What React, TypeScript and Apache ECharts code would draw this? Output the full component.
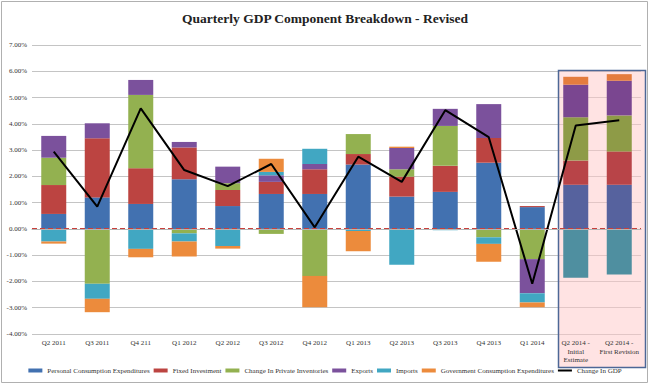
import React, { useEffect, useRef } from "react";
import * as echarts from "echarts";

const categories = [
  "Q2 2011", "Q3 2011", "Q4 211", "Q1 2012", "Q2 2012", "Q3 2012", "Q4 2012",
  "Q1 2013", "Q2 2013", "Q3 2013", "Q4 2013", "Q1 2014",
  "Q2 2014 -\nInitial\nEstimate", "Q2 2014 -\nFirst Revision",
];
const pce = [0.57, 1.2, 0.95, 1.89, 0.87, 1.33, 1.33, 2.45, 1.23, 1.41, 2.52, 0.83, 1.68, 1.68];
const fixedInv = [1.1, 2.25, 1.36, 1.21, 0.61, 0.46, 0.94, 0.4, 0.76, 0.99, 0.94, 0.04, 0.92, 1.27];
const inventories = [1.04, -2.09, 2.79, -0.17, 0.26, -0.19, -1.79, 0.76, 0.28, 1.52, -0.32, -1.15, 1.65, 1.37];
const exportsV = [0.83, 0.57, 0.57, 0.21, 0.63, 0.25, 0.2, 0, 0.81, 0.65, 1.29, -1.3, 1.24, 1.32];
const importsV = [-0.48, -0.57, -0.76, -0.31, -0.65, 0.13, 0.58, -0.08, -1.36, -0.05, -0.25, -0.35, -1.86, -1.74];
const govV = [-0.08, -0.51, -0.32, -0.57, -0.1, 0.5, -1.19, -0.77, 0.05, 0, -0.68, -0.18, 0.3, 0.25];
const gdp = [2.94, 0.85, 4.59, 2.24, 1.63, 2.47, 0.06, 2.75, 1.79, 4.52, 3.49, -2.09, 3.94, 4.14];

const seriesNames = [
  "Personal Consumption Expenditures",
  "Fixed Investment",
  "Change In Private Inventories",
  "Exports",
  "Imports",
  "Government Consumption Expenditures",
];
const seriesColors = ["#4271b0", "#bc4441", "#93b150", "#7b519c", "#41a7c2", "#ec8b3c"];
const mutedColors = ["#56629e", "#b84448", "#8e9b47", "#7a4690", "#4f8fa0", "#e47c3e"];
const highlightStart = 12;

const FONT = "Liberation Serif";

export default function App() {
  const ref = useRef<HTMLDivElement>(null);
  useEffect(() => {
    if (!ref.current) return;
    const chart = echarts.init(ref.current, null, { renderer: "svg" });
    const values = [pce, fixedInv, inventories, exportsV, importsV, govV];
    const barSeries = values.map((arr, i) => ({
      name: seriesNames[i],
      type: "bar",
      stack: "gdp",
      barWidth: 25,
      z: 3,
      itemStyle: { color: seriesColors[i] },
      data: arr.map((v, j) =>
        j >= highlightStart ? { value: v, itemStyle: { color: mutedColors[i] } } : v
      ),
    }));
    chart.setOption({
      animation: false,
      title: {
        text: "Quarterly GDP Component Breakdown - Revised",
        left: "center",
        top: 6,
        textStyle: { fontFamily: FONT, fontWeight: "bold", fontSize: 13.5, color: "#222" },
      },
      legend: {
        bottom: 6,
        left: "center",
        itemWidth: 14,
        itemHeight: 4,
        itemGap: 4,
        textStyle: { fontFamily: FONT, fontSize: 7, color: "#333" },
        data: [
          ...seriesNames.map((n) => ({ name: n, icon: "rect" })),
          { name: "Change In GDP", icon: "path://M0,0H14V2H0Z" },
        ],
      },
      grid: { left: 32, right: 9, top: 45, bottom: 51 },
      xAxis: {
        type: "category",
        data: categories,
        z: 6,
        axisTick: { show: false },
        axisLine: { show: true, lineStyle: { color: "#b5b5b5" } },
        axisLabel: {
          fontFamily: FONT,
          fontSize: 7,
          color: "#333",
          margin: 5,
          lineHeight: 8.5,
          interval: 0,
        },
      },
      yAxis: {
        type: "value",
        min: -4,
        max: 7,
        interval: 1,
        z: 0,
        axisLine: { show: false },
        axisTick: { show: false },
        splitLine: { lineStyle: { color: "#c4c4c4", width: 1 } },
        axisLabel: {
          fontFamily: FONT,
          fontSize: 7,
          color: "#333",
          margin: 5,
          formatter: (v: number) => v.toFixed(2) + "%",
        },
      },
      graphic: [
        {
          type: "rect",
          z: 1,
          shape: { x: 1.5, y: 1.5, width: 646, height: 381 },
          style: { fill: "none", stroke: "#b0b0b0", lineWidth: 1 },
        },
        {
          type: "rect",
          z: 1,
          shape: { x: 558.5, y: 70.5, width: 87, height: 297 },
          style: { fill: "rgba(255,200,200,0.5)", stroke: "#4d6796", lineWidth: 1.5 },
        },
      ],
      series: [
        ...barSeries,
        {
          name: "Change In GDP",
          type: "line",
          data: gdp,
          z: 5,
          symbol: "none",
          lineStyle: { color: "#000", width: 2 },
          itemStyle: { color: "#000" },
          markLine: {
            silent: true,
            symbol: "none",
            label: { show: false },
            lineStyle: { color: "#c9403c", type: [5, 3], width: 2, opacity: 1 },
            data: [{ yAxis: 0 }],
          },
        },
      ],
    });
    return () => chart.dispose();
  }, []);
  return (
    <div
      ref={ref}
      style={{ position: "fixed", left: 0, top: 0, width: 650, height: 385, background: "#fff" }}
    />
  );
}
